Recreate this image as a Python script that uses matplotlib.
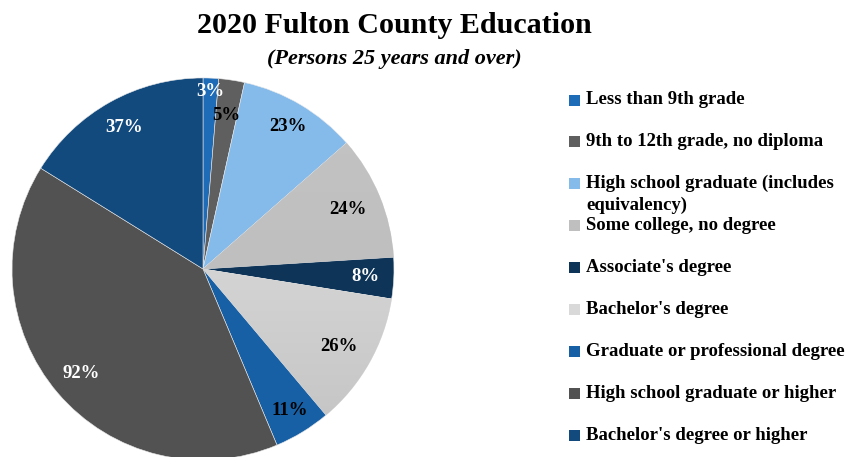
import matplotlib.pyplot as plt
import numpy as np
from matplotlib.patches import Rectangle
from matplotlib.colors import LinearSegmentedColormap

plt.rcParams['font.family'] = ['Liberation Serif', 'DejaVu Serif']

# 数据
categories = ['Less than 9th grade', '9th to 12th grade, no diploma',
              'High school graduate (includes\nequivalency)', 'Some college, no degree',
              "Associate's degree", "Bachelor's degree", 'Graduate or professional degree',
              'High school graduate or higher', "Bachelor's degree or higher"]
values = [3, 5, 23, 24, 8, 26, 11, 92, 37]
colors = ['#1e6bb8', '#5f5f5f', '#85bbeb', '#bfbfbf', '#0e3558', '#d9d9d9',
          '#1760a5', '#525252', '#124a7e']
label_colors = ['white', 'black', 'black', 'black', 'white', 'black', 'black', 'white', 'white']
# 标签到圆心的距离（样式）
label_r = [0.93, 0.81, 0.87, 0.82, 0.85, 0.82, 0.87, 0.84, 0.85]
# 渐变色的扇区
gradients = {3: ('#c4c4c4', '#bababa'), 5: ('#e6e6e6', '#c2c2c2')}

fig = plt.figure(figsize=(8.47, 4.57), dpi=100)
ax = fig.add_axes([0.01417, -0.00656, 0.451, 0.836])
wedges, _ = ax.pie(values, colors=colors, startangle=90, counterclock=False, radius=1,
                   wedgeprops=dict(edgecolor='#e8e8e8', linewidth=0.4))
ax.set_aspect('equal')
ax.axis('off')

# 渐变填充
for i, (c1, c2) in gradients.items():
    cmap = LinearSegmentedColormap.from_list('g%d' % i, [c2, c1])
    grad = np.linspace(0, 1, 256).reshape(-1, 1)
    im = ax.imshow(grad, extent=[-1, 1, -1, 1], origin='lower', cmap=cmap,
                   aspect='auto', zorder=wedges[i].get_zorder() + 0.1)
    im.set_clip_path(wedges[i])
ax.set_xlim(-1, 1)
ax.set_ylim(-1, 1)

# 百分比标签
for w, v, lc, r in zip(wedges, values, label_colors, label_r):
    ang = np.deg2rad((w.theta1 + w.theta2) / 2)
    ax.text(r * np.cos(ang), r * np.sin(ang), f'{v}%', ha='center', va='center',
            fontsize=13.5, fontweight='bold', color=lc, zorder=5)

# 标题
fig.text(0.466, 0.945, '2020 Fulton County Education', ha='center', va='center',
         fontsize=21.6, fontweight='bold')
fig.text(0.466, 0.87, '(Persons 25 years and over)', ha='center', va='center',
         fontsize=16, fontweight='bold', style='italic')

# 图例
y0 = 457 - 100
for i, (cat, c) in enumerate(zip(categories, colors)):
    y = (y0 - i * 41.9) / 457
    fig.patches.append(Rectangle((569 / 847, y - 5.5 / 457), 11 / 847, 11 / 457,
                                 transform=fig.transFigure, facecolor=c, edgecolor='none'))
    for j, line in enumerate(cat.split('\n')):
        fig.text(586 / 847, y - j * 22 / 457, line, ha='left', va='center',
                 fontsize=13.5, fontweight='bold')

plt.savefig('out.png', dpi=100)
